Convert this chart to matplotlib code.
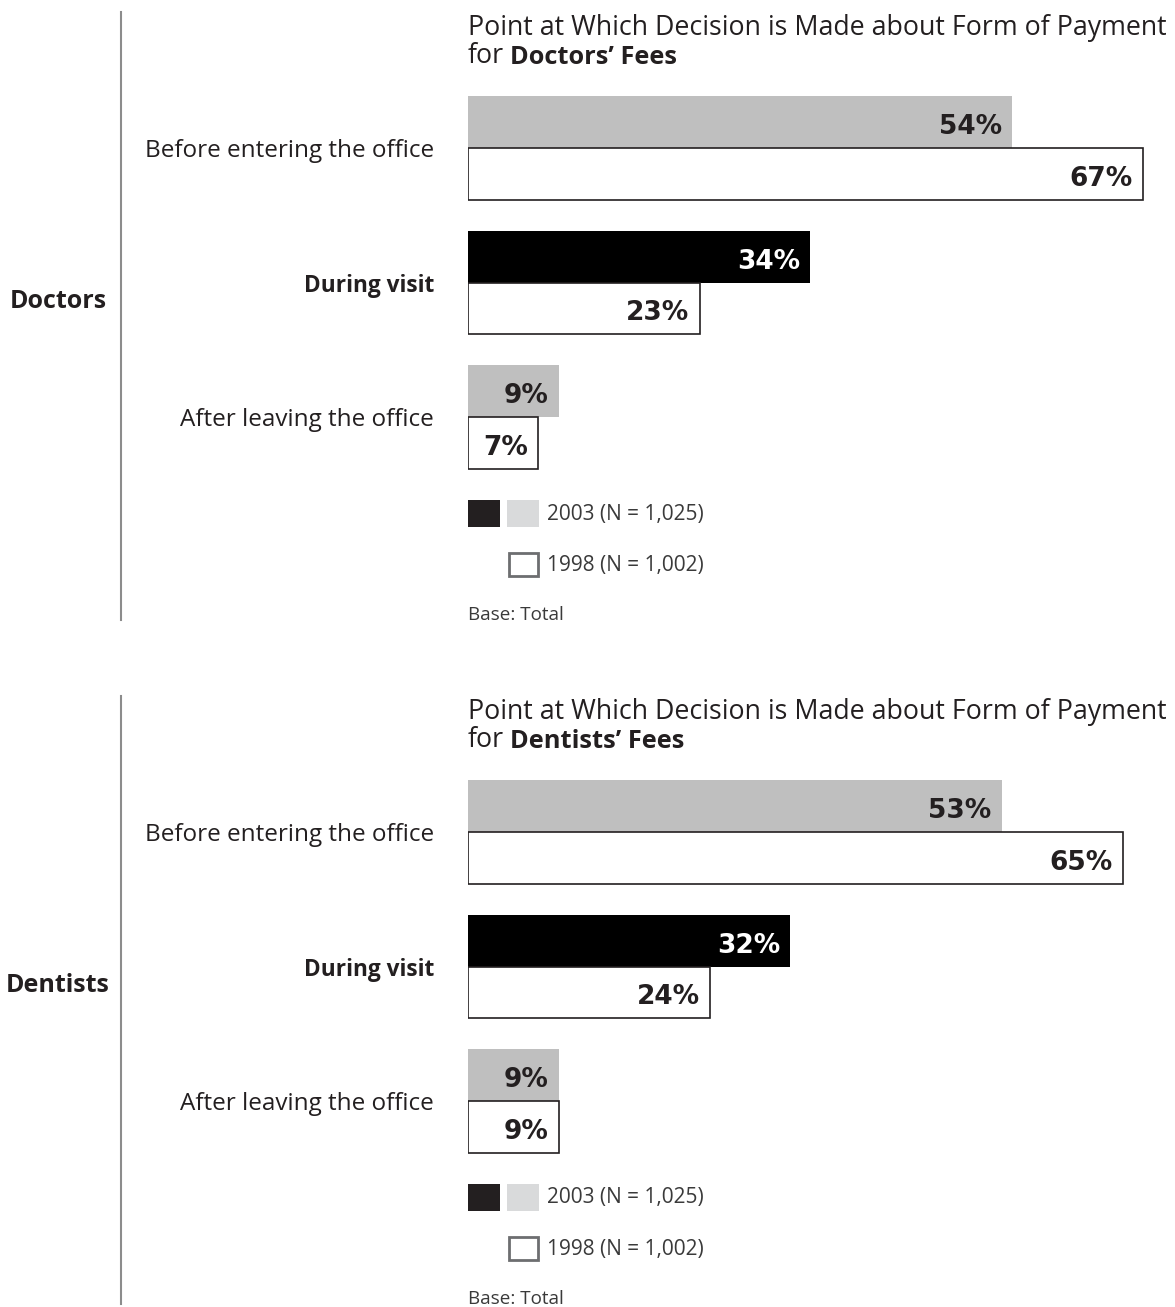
import matplotlib.pyplot as plt
from matplotlib.patches import Rectangle
from matplotlib.lines import Line2D

# Share of respondents (%) by point at which the payment decision is made
categories = ['Before entering the office', 'During visit', 'After leaving the office']
doctors_2003 = [54, 34, 9]
doctors_1998 = [67, 23, 7]
dentists_2003 = [53, 32, 9]
dentists_1998 = [65, 24, 9]

legend_2003 = '2003 (N = 1,025)'
legend_1998 = '1998 (N = 1,002)'

W, H = 1175, 1307
TEXT = '#231f20'
GREY = '#bfbfbf'
PANEL_STEP = 684          # vertical distance between the two panels, px
PX_PER_PCT = 10.07        # bar length per percentage point, px
BAR_LEFT = 468

plt.rcParams['font.family'] = ['Open Sans', 'DejaVu Sans']

fig = plt.figure(figsize=(W / 100, H / 100), dpi=100)


def fx(px):
    return px / W


def fy(py):
    return 1 - py / H


def draw_panel(off, group, subject, vals_2003, vals_1998):
    top, bottom = off + 80, off + 485
    ax = fig.add_axes([fx(BAR_LEFT), fy(bottom), fx(W) - fx(BAR_LEFT), (bottom - top) / H])
    pos = list(range(len(categories)))
    h = 0.383
    colors_2003 = [GREY if c != 'During visit' else '#000000' for c in categories]

    ax.barh([p - h / 2 for p in pos], vals_2003, height=h, color=colors_2003,
            edgecolor='none')
    ax.barh([p + h / 2 for p in pos], vals_1998, height=h, color='white',
            edgecolor=TEXT, linewidth=1.2)

    for p, v, c in zip(pos, vals_2003, colors_2003):
        ax.annotate(f'{v}%', xy=(v, p - h / 2), xytext=(-10, -2), textcoords='offset pixels',
                    ha='right', va='center_baseline', fontsize=19, fontweight='bold',
                    family='DejaVu Sans', color='white' if c == '#000000' else TEXT)
    for p, v in zip(pos, vals_1998):
        ax.annotate(f'{v}%', xy=(v, p + h / 2), xytext=(-10, -2), textcoords='offset pixels',
                    ha='right', va='center_baseline', fontsize=19, fontweight='bold',
                    family='DejaVu Sans', color=TEXT)

    ax.set_xlim(0, (W - BAR_LEFT) / PX_PER_PCT)
    span = (bottom - top) / 134.5
    ax.set_ylim(1 + span / 2, 1 - span / 2)
    ax.set_yticks(pos)
    ax.set_yticklabels(categories, fontsize=17.5, color=TEXT)
    bold = ax.get_yticklabels()[1]
    bold.set_fontweight('bold')
    bold.set_fontsize(16.3)
    ax.tick_params(axis='y', length=0, pad=24.5)
    ax.set_xticks([])
    for s in ax.spines.values():
        s.set_visible(False)
    ax.patch.set_alpha(0)

    # two-line heading, second line partly bold
    fig.text(fx(BAR_LEFT), fy(off + 35), 'Point at Which Decision is Made about Form of Payment',
             fontsize=19.3, color=TEXT, va='baseline')
    t = fig.text(fx(BAR_LEFT), fy(off + 63), 'for', fontsize=19.3, color=TEXT, va='baseline')
    fig.add_artist(plt.Annotation(f'{subject}’ Fees', xy=(1, 0), xycoords=t,
                                  xytext=(6, 0), textcoords='offset pixels',
                                  fontsize=18.3, fontweight='bold', color=TEXT,
                                  va='bottom', ha='left'))

    # group label with divider
    fig.text(fx(58), fy(off + 302), group, ha='center', va='center', fontsize=18,
             fontweight='bold', color=TEXT)
    fig.add_artist(Line2D([fx(121), fx(121)], [fy(off + 12), fy(off + 620)],
                          color='#8c8c8c', lw=1.5))

    # legend
    fig.add_artist(Rectangle((fx(468), fy(off + 527)), 32 / W, 27 / H,
                             facecolor=TEXT, edgecolor='none', transform=fig.transFigure))
    fig.add_artist(Rectangle((fx(507), fy(off + 527)), 32 / W, 27 / H,
                             facecolor='#d9dadb', edgecolor='none', transform=fig.transFigure))
    fig.add_artist(Rectangle((fx(509), fy(off + 576)), 29 / W, 23 / H,
                             facecolor='white', edgecolor='#6d6e70', lw=2,
                             transform=fig.transFigure))
    fig.text(fx(547), fy(off + 514), legend_2003, va='center', fontsize=15, color='#3a3a3a')
    fig.text(fx(547), fy(off + 565), legend_1998, va='center', fontsize=15, color='#3a3a3a')
    fig.text(fx(468), fy(off + 615), 'Base: Total', va='center', fontsize=13.6, color='#3a3a3a')


draw_panel(0, 'Doctors', 'Doctors', doctors_2003, doctors_1998)
draw_panel(PANEL_STEP, 'Dentists', 'Dentists', dentists_2003, dentists_1998)

fig.savefig('out.png', dpi=100, facecolor='white')
